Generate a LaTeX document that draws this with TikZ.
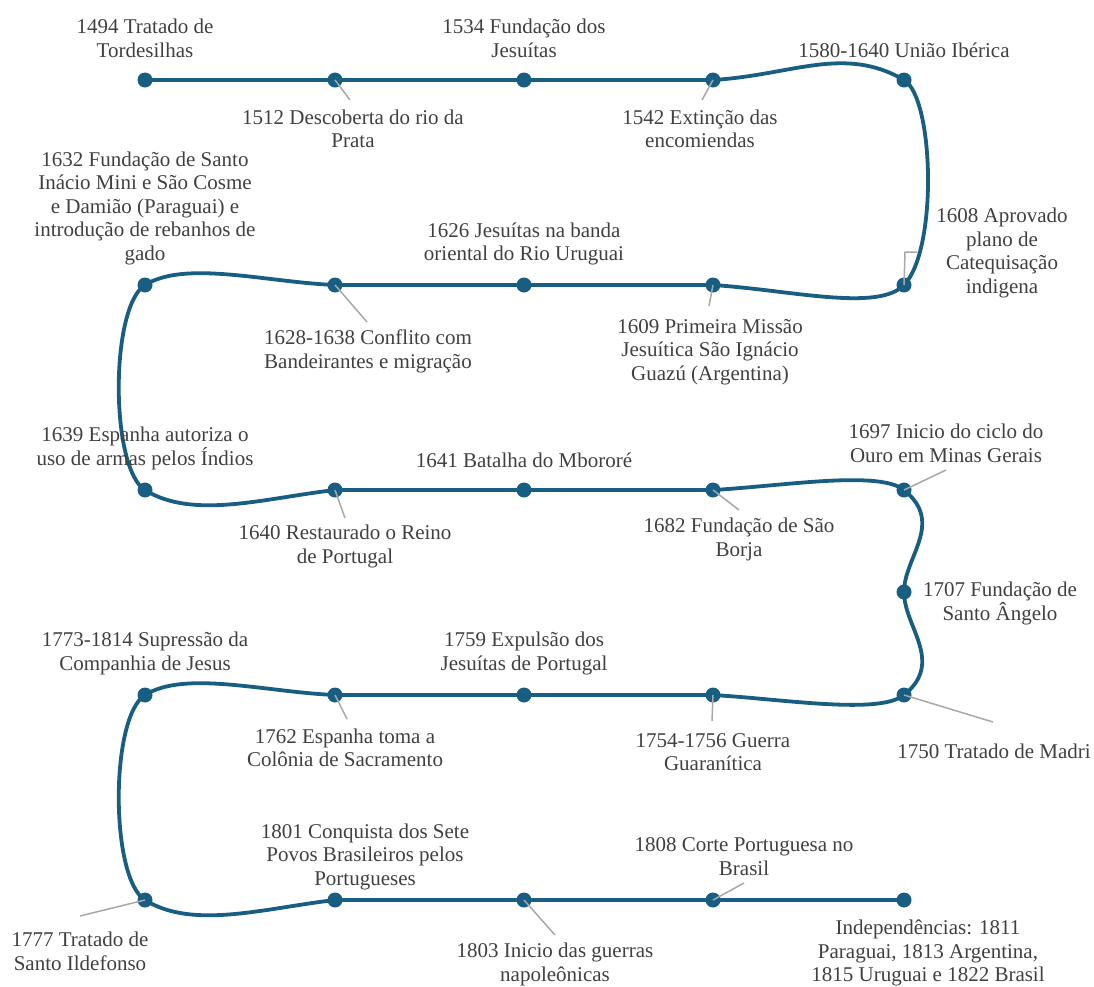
\documentclass[tikz,border=0pt]{standalone}
\usepackage{fontspec}
\setmainfont{Liberation Serif}
\definecolor{tlblue}{HTML}{185E83}
\definecolor{txtgray}{HTML}{404040}
\definecolor{leadgray}{HTML}{A8A8A8}
\tikzset{
  tl/.style={draw=tlblue, line width=3.8pt, line join=round},
  dot/.style={circle, fill=tlblue, minimum size=15pt, inner sep=0pt},
  lbl/.style={align=center, text=txtgray, font=\fontsize{21}{23.5}\selectfont, inner sep=0pt},
  lead/.style={draw=leadgray, line width=1.5pt}
}
\begin{document}
\begin{tikzpicture}[x=1pt, y=-1pt]
\useasboundingbox (0,0) rectangle (1094,986);
% dots
\node[dot] (p1) at (145,80) {};
\node[dot] (p2) at (335,80) {};
\node[dot] (p3) at (524,80) {};
\node[dot] (p4) at (713,80) {};
\node[dot] (p5) at (904,80) {};
\node[dot] (p6) at (904,285) {};
\node[dot] (p7) at (713,285) {};
\node[dot] (p8) at (524,285) {};
\node[dot] (p9) at (335,285) {};
\node[dot] (p10) at (145,285) {};
\node[dot] (p11) at (145,490) {};
\node[dot] (p12) at (335,490) {};
\node[dot] (p13) at (524,490) {};
\node[dot] (p14) at (713,490) {};
\node[dot] (p15) at (904,490) {};
\node[dot] (p16) at (904,592) {};
\node[dot] (p17) at (904,695) {};
\node[dot] (p18) at (713,695) {};
\node[dot] (p19) at (524,695) {};
\node[dot] (p20) at (335,695) {};
\node[dot] (p21) at (145,695) {};
\node[dot] (p22) at (145,900) {};
\node[dot] (p23) at (335,900) {};
\node[dot] (p24) at (524,900) {};
\node[dot] (p25) at (713,900) {};
\node[dot] (p26) at (904,900) {};
% timeline
\draw[tl] (p1.center) -- (p2.center) -- (p3.center) -- (p4.center)
  .. controls +(80,-5) and +(-60,-35) .. (p5.center)
  .. controls +(30,17.5) and +(34,-35) .. (p6.center)
  .. controls +(-26,27) and +(77,5) .. (p7.center)
  -- (p8.center) -- (p9.center)
  .. controls +(-70,-3) and +(40,-25) .. (p10.center)
  .. controls +(-35,22) and +(-35,-22) .. (p11.center)
  .. controls +(48,30) and +(-70,8) .. (p12.center)
  -- (p13.center) -- (p14.center)
  .. controls +(70,-4) and +(-25,-20) .. (p15.center)
  .. controls +(41,33) and +(0,-35) .. (p16.center)
  .. controls +(0,35) and +(41,-33) .. (p17.center)
  .. controls +(-25,20) and +(70,4) .. (p18.center)
  -- (p19.center) -- (p20.center)
  .. controls +(-70,-3) and +(40,-25) .. (p21.center)
  .. controls +(-35,22) and +(-35,-22) .. (p22.center)
  .. controls +(48,30) and +(-70,8) .. (p23.center)
  -- (p24.center) -- (p25.center) -- (p26.center);
% labels
\node[lbl] (l1) at (145,38.5) {1494 Tratado de\\Tordesilhas};
\node[lbl] (l2) at (353,129) {1512 Descoberta do rio da\\Prata};
\node[lbl] (l3) at (524,38.5) {1534 Fundação dos\\Jesuítas};
\node[lbl] (l4) at (700,129) {1542 Extinção das\\encomiendas};
\node[lbl] (l5) at (904,50) {1580-1640 União Ibérica};
\node[lbl] (l6) at (1002,253) {1608 Aprovado\\plano de\\Catequisação\\indigena};
\node[lbl] (l7) at (710,352) {1609 Primeira Missão\\Jesuítica São Ignácio\\Guazú (Argentina)};
\node[lbl] (l8) at (524,244) {1626 Jesuítas na banda\\oriental do Rio Uruguai};
\node[lbl] (l9) at (368,351.5) {1628-1638 Conflito com\\Bandeirantes e migração};
\node[lbl] (l10) at (145,208) {1632 Fundação de Santo\\Inácio Mini e São Cosme\\e Damião (Paraguai) e\\introdução de rebanhos de\\gado};
\node[lbl] (l11) at (145,448.5) {1639 Espanha autoriza o\\uso de armas pelos Índios};
\node[lbl] (l12) at (345,546.5) {1640 Restaurado o Reino\\de Portugal};
\node[lbl] (l13) at (524,460) {1641 Batalha do Mbororé};
\node[lbl] (l14) at (739,539.5) {1682 Fundação de São\\Borja};
\node[lbl] (l15) at (946,443.5) {1697 Inicio do ciclo do\\Ouro em Minas Gerais};
\node[lbl] (l16) at (1000,603.5) {1707 Fundação de\\Santo Ângelo};
\node[lbl] (l17) at (994,751) {1750 Tratado de Madri};
\node[lbl] (l18) at (713,752) {1754-1756 Guerra\\Guaranítica};
\node[lbl] (l19) at (524,653.5) {1759 Expulsão dos\\Jesuítas de Portugal};
\node[lbl] (l20) at (345,748) {1762 Espanha toma a\\Colônia de Sacramento};
\node[lbl] (l21) at (145,653.5) {1773-1814 Supressão da\\Companhia de Jesus};
\node[lbl] (l22) at (80,951.5) {1777 Tratado de\\Santo Ildefonso};
\node[lbl] (l23) at (365,856.5) {1801 Conquista dos Sete\\Povos Brasileiros pelos\\Portugueses};
\node[lbl] (l24) at (555,964.5) {1803 Inicio das guerras\\napoleônicas};
\node[lbl] (l25) at (744,856.5) {1808 Corte Portuguesa no\\Brasil};
\node[lbl] (l26) at (928,953) {Independências: 1811\\Paraguai, 1813 Argentina,\\1815 Uruguai e 1822 Brasil};
% leader ends
\coordinate (e2) at (350,100);
\coordinate (e4) at (702,100);
\coordinate (e6a) at (905,252);
\coordinate (e6) at (917,252);
\coordinate (e7) at (709,306);
\coordinate (e9) at (367,322);
\coordinate (e12) at (345,518);
\coordinate (e14) at (739,510);
\coordinate (e15) at (946,470);
\coordinate (e17) at (993,722);
\coordinate (e18) at (712,721);
\coordinate (e20) at (347,719);
\coordinate (e22) at (80,916);
\coordinate (e24) at (555,935);
\coordinate (e25) at (744,883);
% leaders
\draw[lead] (p2.center) -- (e2);
\draw[lead] (p4.center) -- (e4);
\draw[lead] (p6.center) -- (e6a) -- (e6);
\draw[lead] (p7.center) -- (e7);
\draw[lead] (p9.center) -- (e9);
\draw[lead] (p12.center) -- (e12);
\draw[lead] (p14.center) -- (e14);
\draw[lead] (p15.center) -- (e15);
\draw[lead] (p17.center) -- (e17);
\draw[lead] (p18.center) -- (e18);
\draw[lead] (p20.center) -- (e20);
\draw[lead] (p22.center) -- (e22);
\draw[lead] (p24.center) -- (e24);
\draw[lead] (p25.center) -- (e25);
\end{tikzpicture}
\end{document}
